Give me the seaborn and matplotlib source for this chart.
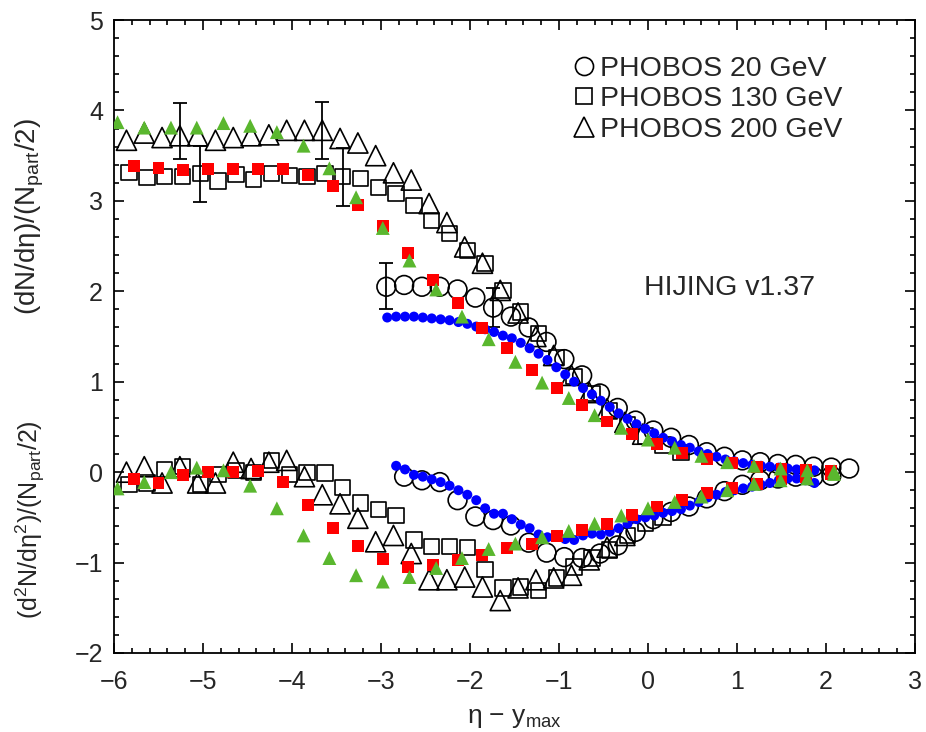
import numpy as np
import pandas as pd
import matplotlib
matplotlib.use("Agg")
import matplotlib.pyplot as plt
import seaborn as sns
from matplotlib.lines import Line2D
from matplotlib.ticker import MultipleLocator

# ---------------- data ----------------
# PHOBOS 19.6 GeV (open circles), eta - y_max grid
x_p20 = [round(-2.94 + 0.2 * k, 2) for k in range(27)]
dn_p20 = [2.05, 2.07, 2.05, 2.05, 2.02, 1.93, 1.82, 1.72, 1.60, 1.44, 1.25, 1.07, 0.87, 0.71,
          0.57, 0.46, 0.38, 0.30, 0.22, 0.17, 0.13, 0.11, 0.09, 0.08, 0.06, 0.05, 0.04]
xd_p20 = [round(-2.74 + 0.2 * k, 2) for k in range(25)]
d2n_p20 = [-0.05, -0.09, -0.11, -0.31, -0.49, -0.53, -0.59, -0.78, -0.89, -0.94, -0.95, -0.90,
           -0.81, -0.66, -0.52, -0.44, -0.38, -0.29, -0.21, -0.14, -0.09, -0.07, -0.05, -0.05, -0.04]

# PHOBOS 130 GeV (open squares)
x_p130 = [round(-5.83 + 0.2 * k, 2) for k in range(32)]
dn_p130 = [3.31, 3.26, 3.27, 3.27, 3.30, 3.22, 3.29, 3.24, 3.30, 3.28, 3.27, 3.30, 3.27, 3.25,
           3.15, 3.08, 2.95, 2.78, 2.64, 2.45, 2.31, 2.01, 1.77, 1.53, 1.27, 1.06, 0.87, 0.68,
           0.52, 0.40, 0.30, 0.22]
xd_p130 = [round(-5.83 + 0.2 * k, 2) for k in range(31)]
d2n_p130 = [-0.14, -0.12, 0.03, 0.06, -0.14, -0.03, 0.02, 0.00, 0.13, -0.03, 0.00, -0.01, -0.17,
            -0.34, -0.41, -0.48, -0.75, -0.82, -0.82, -0.83, -1.08, -1.28, -1.27, -1.31, -1.17,
            -1.05, -0.95, -0.86, -0.70, -0.57, -0.50]

# PHOBOS 200 GeV (open triangles)
x_p200 = [round(-5.86 + 0.2 * k, 2) for k in range(30)]
dn_p200 = [3.67, 3.75, 3.70, 3.72, 3.72, 3.67, 3.70, 3.72, 3.73, 3.78, 3.78, 3.78, 3.69, 3.64,
           3.50, 3.31, 3.23, 2.97, 2.76, 2.49, 2.31, 2.01, 1.76, 1.50, 1.29, 1.07, 0.88, 0.70,
           0.55, 0.42]
xd_p200 = [round(-5.86 + 0.2 * k, 2) for k in range(29)]
d2n_p200 = [0.00, 0.06, -0.12, 0.06, -0.12, -0.12, 0.11, 0.04, 0.11, 0.13, -0.05, -0.25, -0.35,
            -0.51, -0.77, -0.70, -0.90, -1.19, -1.19, -1.16, -1.27, -1.42, -1.28, -1.19, -1.17,
            -1.14, -0.97, -0.83, -0.70]

# PHOBOS error bars (x, centre, down, up)
err_x = [-5.26, -3.66, -5.03, -3.43, -2.94, -1.74]
err_y = [3.72, 3.78, 3.30, 3.27, 2.05, 1.82]
err_lo = [0.26, 0.32, 0.31, 0.33, 0.25, 0.22]
err_hi = [0.36, 0.31, 0.31, 0.32, 0.26, 0.22]

# HIJING 20 GeV (blue dots)
x_h20 = [round(-2.93 + 0.1 * k, 2) for k in range(49)]
dn_h20 = [1.71, 1.72, 1.72, 1.72, 1.71, 1.70, 1.69, 1.68, 1.66, 1.64, 1.61, 1.58, 1.55, 1.51,
          1.48, 1.43, 1.37, 1.31, 1.24, 1.16, 1.08, 1.00, 0.93, 0.86, 0.79, 0.72, 0.65, 0.59,
          0.53, 0.48, 0.43, 0.38, 0.34, 0.30, 0.27, 0.23, 0.20, 0.17, 0.14, 0.12, 0.10, 0.08,
          0.07, 0.06, 0.05, 0.04, 0.03, 0.03, 0.02]
xd_h20 = [round(-2.83 + 0.1 * k, 2) for k in range(48)]
d2n_h20 = [0.07, 0.03, -0.03, -0.05, -0.08, -0.11, -0.15, -0.20, -0.25, -0.31, -0.40, -0.46,
           -0.46, -0.52, -0.58, -0.62, -0.69, -0.72, -0.70, -0.74, -0.75, -0.70, -0.68, -0.69,
           -0.66, -0.62, -0.57, -0.52, -0.50, -0.48, -0.45, -0.43, -0.41, -0.37, -0.33, -0.28,
           -0.25, -0.22, -0.20, -0.18, -0.16, -0.14, -0.12, -0.09, -0.07, -0.07, -0.09, -0.12]

# HIJING 130 GeV (red squares)
x_h130 = [round(-5.78 + 0.28 * k, 2) for k in range(29)]
dn_h130 = [3.39, 3.36, 3.34, 3.35, 3.35, 3.35, 3.35, 3.29, 3.16, 2.95, 2.72, 2.42, 2.13, 1.87,
           1.59, 1.37, 1.13, 0.93, 0.74, 0.56, 0.42, 0.31, 0.21, 0.15, 0.10, 0.06, 0.04, 0.02,
           0.01]
d2n_h130 = [-0.08, -0.12, -0.03, 0.00, 0.00, 0.01, -0.11, -0.36, -0.62, -0.82, -0.96, -1.05,
            -1.03, -0.97, -0.92, -0.84, -0.79, -0.71, -0.64, -0.57, -0.47, -0.38, -0.31, -0.23,
            -0.18, -0.13, -0.08, -0.05, -0.02]

# HIJING 200 GeV (green triangles)
x_h200 = [round(-5.96 + 0.298 * k, 2) for k in range(28)]
dn_h200 = [3.87, 3.81, 3.81, 3.81, 3.86, 3.83, 3.76, 3.61, 3.36, 3.04, 2.70, 2.34, 2.02, 1.72,
           1.47, 1.22, 0.99, 0.82, 0.63, 0.49, 0.36, 0.27, 0.18, 0.11, 0.07, 0.04, 0.02, 0.01]
d2n_h200 = [-0.18, -0.11, 0.00, 0.05, 0.02, -0.15, -0.40, -0.70, -0.95, -1.14, -1.21, -1.16,
            -1.06, -0.95, -0.85, -0.79, -0.72, -0.65, -0.57, -0.48, -0.40, -0.33, -0.27, -0.20,
            -0.13, -0.09, -0.07, -0.02]

legend_labels = ["PHOBOS 20 GeV", "PHOBOS 130 GeV", "PHOBOS 200 GeV"]
model_label = "HIJING v1.37"

# ---------------- style ----------------
sns.set_style("ticks")
plt.rcParams['font.family'] = ['Liberation Sans', 'DejaVu Sans']
plt.rcParams['mathtext.fontset'] = 'custom'
plt.rcParams['mathtext.rm'] = 'Liberation Sans'
plt.rcParams['mathtext.it'] = 'Liberation Sans:italic'
plt.rcParams['axes.unicode_minus'] = True

fig = plt.figure(figsize=(9.26, 7.32), dpi=100)
ax = fig.add_axes([114 / 926, 1 - 653 / 732, (915 - 114) / 926, (653 - 20) / 732])


def frame(x, y):
    return pd.DataFrame({"x": x, "y": y})


open_kw = dict(facecolors="none", edgecolors="black", linewidths=1.2, legend=False, zorder=3)
fill_kw = dict(edgecolors="none", legend=False, zorder=4)

# error bars behind the markers
ax.errorbar(err_x, err_y, yerr=[err_lo, err_hi], fmt="none", ecolor="black",
            elinewidth=1.3, capsize=4.7, capthick=1.3, zorder=2)

# PHOBOS data (open symbols)
for xs, ys in [(x_p20, dn_p20), (xd_p20, d2n_p20)]:
    sns.scatterplot(data=frame(xs, ys), x="x", y="y", marker="o", s=13.5 ** 2, ax=ax, **open_kw)
for xs, ys in [(x_p130, dn_p130), (xd_p130, d2n_p130)]:
    sns.scatterplot(data=frame(xs, ys), x="x", y="y", marker="s", s=11 ** 2, ax=ax, **open_kw)
for xs, ys in [(x_p200, dn_p200), (xd_p200, d2n_p200)]:
    sns.scatterplot(data=frame(xs, ys), x="x", y="y", marker="^", s=14.5 ** 2, ax=ax, **open_kw)

# HIJING curves (filled symbols)
for xs, ys in [(x_h20, dn_h20), (xd_h20, d2n_h20)]:
    sns.scatterplot(data=frame(xs, ys), x="x", y="y", marker="o", s=7.2 ** 2, color="#0000ff",
                    ax=ax, **fill_kw)
for ys in [dn_h130, d2n_h130]:
    sns.scatterplot(data=frame(x_h130, ys), x="x", y="y", marker="s", s=8.6 ** 2, color="#ff0000",
                    ax=ax, **fill_kw)
for ys in [dn_h200, d2n_h200]:
    sns.scatterplot(data=frame(x_h200, ys), x="x", y="y", marker="^", s=10 ** 2, color="#5ab72e",
                    ax=ax, **fill_kw)

# ---------------- axes ----------------
ax.set_xlim(-6, 3)
ax.set_ylim(-2, 5)
ax.xaxis.set_major_locator(MultipleLocator(1))
ax.xaxis.set_minor_locator(MultipleLocator(0.2))
ax.yaxis.set_major_locator(MultipleLocator(1))
ax.yaxis.set_minor_locator(MultipleLocator(0.2))
ax.tick_params(which="both", direction="in", top=True, right=True, width=1.2, color="black")
ax.tick_params(which="major", length=7.5, labelsize=18)
ax.tick_params(axis="x", which="major", pad=12)
ax.tick_params(axis="y", which="major", pad=8)
ax.tick_params(which="minor", length=3.8)
for sp in ax.spines.values():
    sp.set_linewidth(1.3)
    sp.set_color("black")

ax.set_xlabel(r"η − y$_{\mathregular{max}}$", fontsize=19, labelpad=9)
ax.set_ylabel("")
fig.text(30 / 926, 1 - 217 / 732, r"(dN/dη)/(N$_{\mathregular{part}}$/2)", rotation=90,
         ha="center", va="center", fontsize=20)
fig.text(30 / 926, 1 - 520 / 732, r"(d$^{\mathregular{2}}$N/dη$^{\mathregular{2}}$)/(N$_{\mathregular{part}}$/2)",
         rotation=90, ha="center", va="center", fontsize=18)

ax.text(-0.05, 2.04, model_label, fontsize=20.5, ha="left", va="center")

handles = [
    Line2D([], [], ls="none", marker="o", ms=13, mfc="none", mec="black", mew=1.2),
    Line2D([], [], ls="none", marker="s", ms=11, mfc="none", mec="black", mew=1.2),
    Line2D([], [], ls="none", marker="^", ms=14, mfc="none", mec="black", mew=1.2),
]
ax.legend(handles, legend_labels, loc="upper left", bbox_to_anchor=(0.574, 0.943),
          frameon=False, fontsize=20.5, handlelength=0.7, handletextpad=0.22,
          labelspacing=0.15, borderpad=0, borderaxespad=0)

fig.savefig("out.png", dpi=100, facecolor="white")
